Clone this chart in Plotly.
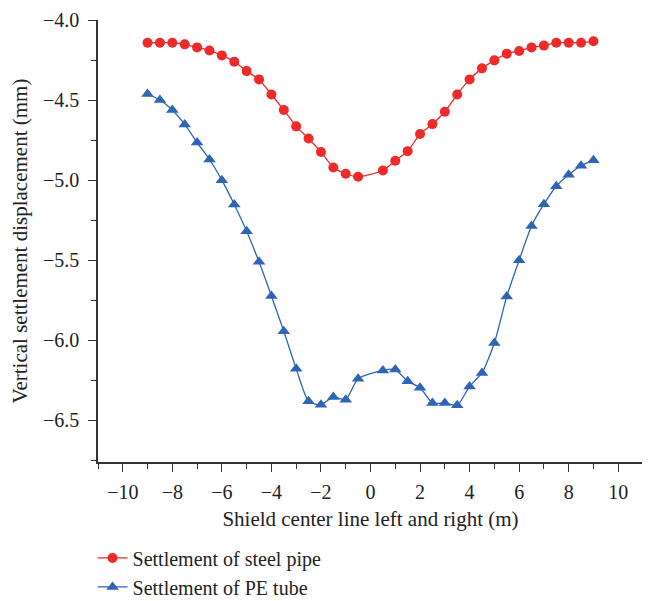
import plotly.graph_objects as go

x_steel = [-9, -8.5, -8, -7.5, -7, -6.5, -6, -5.5, -5, -4.5, -4, -3.5, -3, -2.5, -2, -1.5, -1, -0.5,
           0.5, 1, 1.5, 2, 2.5, 3, 3.5, 4, 4.5, 5, 5.5, 6, 6.5, 7, 7.5, 8, 8.5, 9]
y_steel = [-4.142, -4.142, -4.142, -4.152, -4.171, -4.190, -4.221, -4.260, -4.319, -4.371, -4.465,
           -4.562, -4.664, -4.740, -4.824, -4.921, -4.960, -4.979,
           -4.940, -4.879, -4.819, -4.712, -4.650, -4.573, -4.465, -4.371, -4.302, -4.252, -4.210,
           -4.194, -4.171, -4.160, -4.142, -4.142, -4.142, -4.133]

x_pe = [-9, -8.5, -8, -7.5, -7, -6.5, -6, -5.5, -5, -4.5, -4, -3.5, -3, -2.5, -2, -1.5, -1, -0.5,
        0.5, 1, 1.5, 2, 2.5, 3, 3.5, 4, 4.5, 5, 5.5, 6, 6.5, 7, 7.5, 8, 8.5, 9]
y_pe = [-4.462, -4.500, -4.562, -4.652, -4.765, -4.871, -5.000, -5.152, -5.319, -5.510, -5.723,
        -5.944, -6.177, -6.381, -6.402, -6.354, -6.371, -6.240,
        -6.188, -6.183, -6.256, -6.296, -6.392, -6.392, -6.406, -6.288, -6.204, -6.017, -5.726,
        -5.500, -5.286, -5.150, -5.038, -4.967, -4.910, -4.875]

RED = "rgb(238,42,42)"
BLUE = "rgb(46,101,181)"
FONT = "Liberation Serif"

fig = go.Figure()
fig.add_trace(go.Scatter(
    x=x_steel, y=y_steel, name="Settlement of steel pipe", mode="lines+markers",
    line=dict(color=RED, width=1.3, shape="spline", smoothing=0.6),
    marker=dict(symbol="circle", size=10, color=RED),
))
fig.add_trace(go.Scatter(
    x=x_pe, y=y_pe, name="Settlement of PE tube", mode="lines+markers",
    line=dict(color=BLUE, width=1.3, shape="spline", smoothing=0.6),
    marker=dict(symbol="triangle-up", size=11, color=BLUE),
))

axis_common = dict(
    showline=True, linecolor="#333", linewidth=1.5, ticks="outside", tickcolor="#333",
    ticklen=8, tickwidth=1.3, showgrid=False, zeroline=False, automargin=False,
    tickfont=dict(family=FONT, size=20, color="#222"),
)

fig.update_layout(
    width=642, height=593,
    margin=dict(l=90, r=7, t=12, b=139, autoexpand=False),
    paper_bgcolor="white", plot_bgcolor="white",
    font=dict(family=FONT, size=21, color="#222"),
    xaxis=dict(range=[-11, 11], dtick=2, tick0=0, ticklabelstandoff=3,
               minor=dict(ticks="outside", dtick=1, tick0=0, ticklen=5, tickcolor="#333"),
               title=dict(text="Shield center line left and right (m)",
                          font=dict(family=FONT, size=21), standoff=10),
               **axis_common),
    yaxis=dict(range=[-6.76, -4.0], dtick=0.5, tick0=-4.0, tickformat=".1f", ticklabelstandoff=5,
               minor=dict(ticks="outside", dtick=0.25, tick0=-4.0, ticklen=5, tickcolor="#333"),
               title=dict(text="Vertical settlement displacement (mm)",
                          font=dict(family=FONT, size=21), standoff=10),
               **axis_common),
    legend=dict(x=-0.01, y=-0.173, xanchor="left", yanchor="top",
                font=dict(family=FONT, size=20, color="#222"),
                tracegroupgap=0, itemwidth=30, bgcolor="rgba(0,0,0,0)"),
    showlegend=True,
)

fig.write_html("out.html")
